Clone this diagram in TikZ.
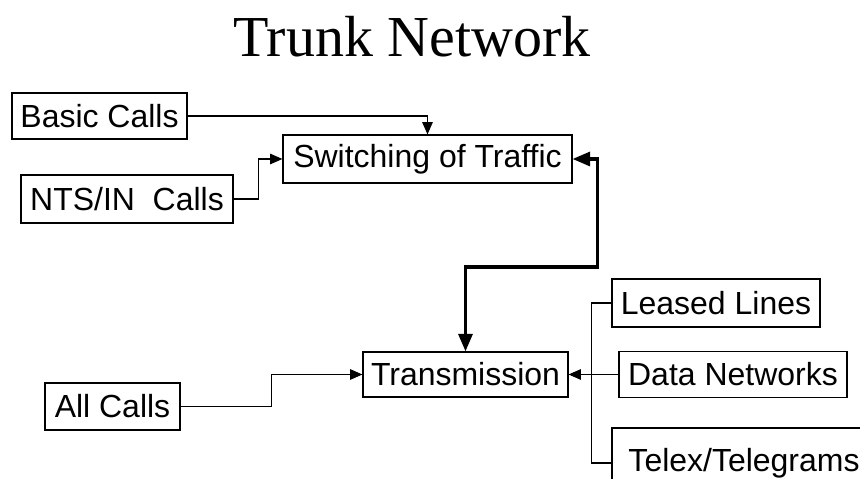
\documentclass[tikz,border=0pt]{standalone}
\usepackage{fontspec}
\setmainfont{Liberation Serif}
\setsansfont{Liberation Sans}
\usepackage{tikz}
\usetikzlibrary{arrows.meta}

\tikzset{
    box/.style={draw, rectangle, line width=0.7pt, inner sep=0pt,
        font=\sffamily\fontsize{18.2}{20}\selectfont},
    flow/.style={-{Triangle[length=7pt, width=6pt]}, line width=0.6pt},
    bigflow/.style={{Triangle[length=10pt, width=8pt]}-{Triangle[length=10pt, width=8pt]}, line width=1.8pt},
}

\begin{document}
\begin{tikzpicture}[x=0.02cm, y=-0.02cm]
            \useasboundingbox (0, 0) rectangle (860, 479);
            \clip (0, 0) rectangle (860, 479);

            % Title
            \node[anchor=base, font=\rmfamily\fontsize{33}{36}\selectfont] (title) at (412, 57) {Trunk Network};

            % Nodes
            \node[box, minimum width=3.5cm, minimum height=0.92cm] (basic) at (99.5, 116) {Basic Calls};
            \node[box, minimum width=4.24cm, minimum height=0.96cm] (nts) at (127, 199) {NTS/IN\ \ Calls};
            \node[box, minimum width=5.78cm, minimum height=0.96cm] (switch) at (427.5, 159) {Switching of Traffic};
            \node[box, minimum width=4.1cm, minimum height=0.9cm] (trans) at (465.5, 374.5) {Transmission};
            \node[box, minimum width=2.7cm, minimum height=0.94cm] (allcalls) at (112.5, 406.5) {All Calls};
            \node[box, minimum width=4.16cm, minimum height=0.96cm] (leased) at (716, 303) {Leased Lines};
            \node[box, minimum width=4.56cm, minimum height=0.92cm] (data) at (733, 374.5) {Data Networks};
            \node[box, minimum width=5.28cm, minimum height=1.4cm] (telex) at (744, 463) {Telex/Telegrams};

            % Edges
            \draw[flow] (basic.east) -| (switch.north);
            \draw[flow] (nts.east) -- ++(25, 0) |- (switch.west);
            \draw[flow] (allcalls.east) -- ++(91, 0) |- (trans.west);
            \draw[bigflow] (switch.east) -- ++(25, 0) -- ++(0, 108) -| (trans.north);
            \draw[flow] (data.west) -- (trans.east);
            \draw[line width=0.6pt] (leased.west) -- ++(-20, 0) |- (telex.west);
        \end{tikzpicture}
\end{document}
